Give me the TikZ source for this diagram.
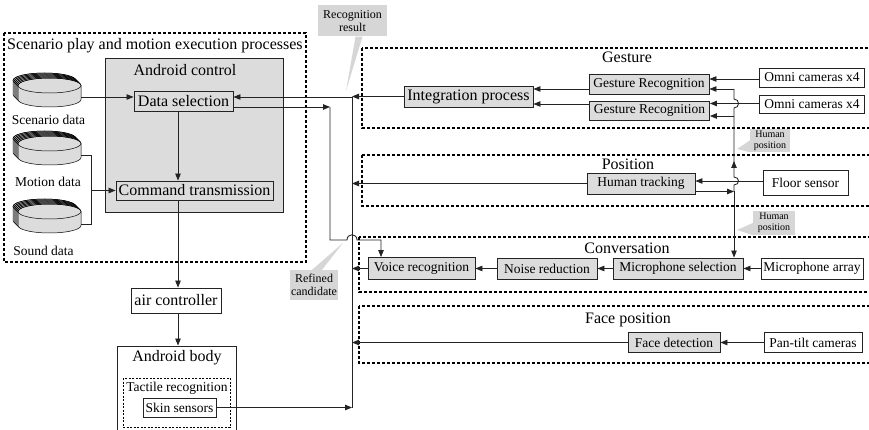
\documentclass[tikz,border=0pt]{standalone}
\usepackage{fontspec}
\setmainfont{Liberation Serif}
\usetikzlibrary{positioning,arrows.meta}
\definecolor{boxgray}{RGB}{220,220,220}
\definecolor{notegray}{RGB}{214,214,214}
\definecolor{inkgray}{RGB}{35,35,35}
\newcommand{\fsBig}{\fontsize{16}{18}\selectfont}
\newcommand{\fsMid}{\fontsize{13.5}{15}\selectfont}
\newcommand{\fsNote}{\fontsize{12}{12.5}\selectfont}
\newcommand{\fsTiny}{\fontsize{10}{11}\selectfont}

\begin{document}
\begin{tikzpicture}[x=1pt, y=-1pt,
      proc/.style={draw=inkgray, line width=0.9pt, fill=boxgray, inner sep=0pt, font=\fsMid},
      dev/.style={proc, fill=white},
      group/.style={draw=black, line width=1.1pt, dash pattern=on 3pt off 2pt},
      title/.style={font=\fsBig, inner sep=0pt},
      disk/.style={draw=black, line width=0.5pt, fill=boxgray},
      note/.style={fill=notegray, inner sep=0pt, align=center, font=\fsNote},
      link/.style={draw=inkgray, line width=0.85pt},
      arr/.style={link, -{Triangle[length=7pt,width=5.5pt]}}]
    \useasboundingbox (0,0) rectangle (869,430);

    \draw[group] (4,33) rectangle (306,262);
    \node[title, anchor=west] (scentitle) at (7,46) {Scenario play and motion execution processes};
    \node[draw=inkgray, line width=0.8pt, fill=boxgray, minimum width=178pt, minimum height=154pt] (ctrl) at (194,135) {};
    \node[title] (ctrltitle) at (185,70) {Android control};
    \node[proc, font=\fsBig, minimum width=99pt, minimum height=20pt] (datasel) at (183.5,101) {Data selection};
    \node[proc, font=\fsBig, minimum width=157pt, minimum height=19pt] (cmd) at (194.5,190.5) {Command transmission};

    \foreach \nm/\yy in {scen/92.5, motion/150.5, sound/218.5} {
      \foreach \k in {5,...,0} {
        \filldraw[disk] (18-\k,\yy-7-\k) -- (18-\k,\yy+7-\k)
          arc[start angle=180, end angle=360, x radius=31.5pt, y radius=7.5pt]
          -- (81-\k,\yy-7-\k)
          arc[start angle=0, end angle=180, x radius=31.5pt, y radius=7.5pt] -- cycle;
        \draw[disk, fill=none] (49.5-\k,\yy-7-\k) ellipse[x radius=31.5pt, y radius=7.5pt];
      }
      \node[minimum width=63pt, minimum height=29pt, inner sep=0pt] (\nm) at (49.5,\yy) {};
    }
    \node[font=\fsMid] (scenlbl) at (48.5,120) {Scenario data};
    \node[font=\fsMid] (motionlbl) at (48,182) {Motion data};
    \node[font=\fsMid] (soundlbl) at (43.5,251) {Sound data};

    \node[dev, font=\fsBig, minimum width=90pt, minimum height=25pt] (air) at (176,300.5) {air controller};
    \node[draw=inkgray, line width=0.9pt, minimum width=119pt, minimum height=88pt] (body) at (176.5,390) {};
    \node[title] (bodytitle) at (177,358) {Android body};
    \draw[group, line width=0.8pt, dash pattern=on 2pt off 1.5pt] (123,378) rectangle (230,427);
    \node[font=\fsMid] (tacttitle) at (177,388) {Tactile recognition};
    \node[dev, minimum width=73pt, minimum height=19pt] (skin) at (179.5,407.5) {Skin sensors};

    \draw[group] (362,48) rectangle (885,128);
    \draw[group] (362,155) rectangle (885,206);
    \draw[group] (359,237) rectangle (885,292);
    \draw[group] (359,306) rectangle (885,363);
    \node[title] (gesttitle) at (627,57) {Gesture};
    \node[title] (postitle) at (628,164) {Position};
    \node[title] (convtitle) at (627,248) {Conversation};
    \node[title] (facetitle) at (628,320) {Face position};

    \node[proc, font=\fsBig, minimum width=129pt, minimum height=21pt] (integ) at (468.5,96.5) {Integration process};
    \node[proc, minimum width=120pt, minimum height=20pt] (gr1) at (649,84) {Gesture Recognition};
    \node[proc, minimum width=120pt, minimum height=19pt] (gr2) at (649.5,110.5) {Gesture Recognition};
    \node[dev, minimum width=105pt, minimum height=19pt] (omni1) at (812,77.5) {Omni cameras x4};
    \node[dev, minimum width=105pt, minimum height=18pt] (omni2) at (812,104) {Omni cameras x4};
    \node[proc, minimum width=108pt, minimum height=21pt] (track) at (641,183.5) {Human tracking};
    \node[dev, minimum width=85pt, minimum height=25pt] (floor) at (805.5,182.5) {Floor sensor};
    \node[proc, minimum width=107pt, minimum height=22pt] (voice) at (421.5,268.5) {Voice recognition};
    \node[proc, minimum width=100pt, minimum height=21pt] (noise) at (547,268.5) {Noise reduction};
    \node[proc, minimum width=130pt, minimum height=21pt] (micsel) at (678,268.5) {Microphone selection};
    \node[dev, minimum width=102pt, minimum height=21pt] (micarr) at (812,268.5) {Microphone array};
    \node[proc, minimum width=92pt, minimum height=20pt] (face) at (674,342.5) {Face detection};
    \node[dev, minimum width=98pt, minimum height=20pt] (pantilt) at (813,342.5) {Pan-tilt cameras};

    \node[note, minimum width=69pt, minimum height=31pt] (recog) at (352.5,21) {Recognition\\result};
    \node[note, minimum width=48pt, minimum height=30pt] (refnote) at (314,285) {Refined\\candidate};
    \node[note, font=\fsTiny, minimum width=40pt, minimum height=23pt] (hpnote1) at (770,140.5) {Human\\position};
    \node[note, font=\fsTiny, minimum width=42pt, minimum height=24pt] (hpnote2) at (774,223) {Human\\position};
    \coordinate (recogtip) at (346,91);
    \coordinate (reftip) at (343,243);
    \coordinate (hptip1) at (737,149);
    \coordinate (hptip2) at (737,230);
    \fill[notegray] ([xshift=3pt]recog.south) -- ([xshift=10pt]recog.south) -- (recogtip) -- cycle;
    \fill[notegray] ([xshift=-2pt]refnote.north) -- ([xshift=8pt]refnote.north) -- (reftip) -- cycle;
    \fill[notegray] (hpnote1.west) -- (hpnote1.south west) -- (hptip1) -- cycle;
    \fill[notegray] (hpnote2.west) -- (hpnote2.south west) -- (hptip2) -- cycle;

    \coordinate (busT) at (352,97);
    \coordinate (busB) at (352,408);
    \coordinate (mj) at (91,190.5);
    \coordinate (refA) at (330,107);
    \coordinate (refB) at (381,240);
    \coordinate (hp) at (734,191.5);
    \coordinate (hpTop) at (734,89);
    \coordinate (hpMid) at (734,116);

    \draw[link] (busT) -- (busB);
    \draw[arr] (integ.west) -- (integ.west -| busT);
    \draw[arr] (busT) -- (datasel.east |- busT);
    \draw[arr] (scen.east |- busT) -- (datasel.west |- busT);
    \draw[arr] (datasel.east |- refA) -- (refA);
    \draw[arr] (refA) -- (refA |- refB) -- (347,240) .. controls (347,233) and (357,233) .. (357,240)
      -- (refB) -- (voice.north -| refB);
    \draw[link] (motion.east |- 0,155) -| (mj);
    \draw[link] (sound.east |- 0,224) -| (mj);
    \draw[arr] (mj) -- (cmd.west);
    \draw[arr] (datasel.south -| 178,0) -- (cmd.north -| 178,0);
    \draw[arr] (cmd.south -| 178,0) -- (air.north -| 178,0);
    \draw[arr] (air.south -| 178,0) -- (body.north -| 178,0);
    \draw[arr] (skin) -- (skin -| busT);

    \draw[arr] (omni1.west |- 0,79) -- (gr1.east |- 0,79);
    \draw[arr] (omni2.west |- 0,103.5) -- (gr2.east |- 0,103.5);
    \draw[arr] (gr1.west |- 0,89) -- (integ.east |- 0,89);
    \draw[arr] (gr2.west |- 0,104) -- (integ.east |- 0,104);
    \draw[arr] (floor.west |- 0,181) -- (track.east |- 0,181);
    \draw[arr] (track.west) -- (track.west -| busT);
    \draw[arr] (track.east |- hp) -- (hp);
    \draw[arr] (hp) -- (734,185) .. controls (740,185) and (740,177) .. (734,177) -- (734,161);
    \draw[link] (734,163) -- (734,108) .. controls (740,108) and (740,99) .. (734,99) -- (hpTop);
    \draw[arr] (hpTop) -- (gr1.east |- hpTop);
    \draw[arr] (hpMid) -- (gr2.east |- hpMid);
    \draw[arr] (hp) -- (micsel.north -| hp);

    \draw[arr] (micarr) -- (micsel);
    \draw[arr] (micsel) -- (noise);
    \draw[arr] (noise) -- (voice);
    \draw[arr] (voice) -- (voice -| busT);
    \draw[arr] (pantilt) -- (face);
    \draw[arr] (face) -- (face -| busT);
  \end{tikzpicture}
\end{document}
